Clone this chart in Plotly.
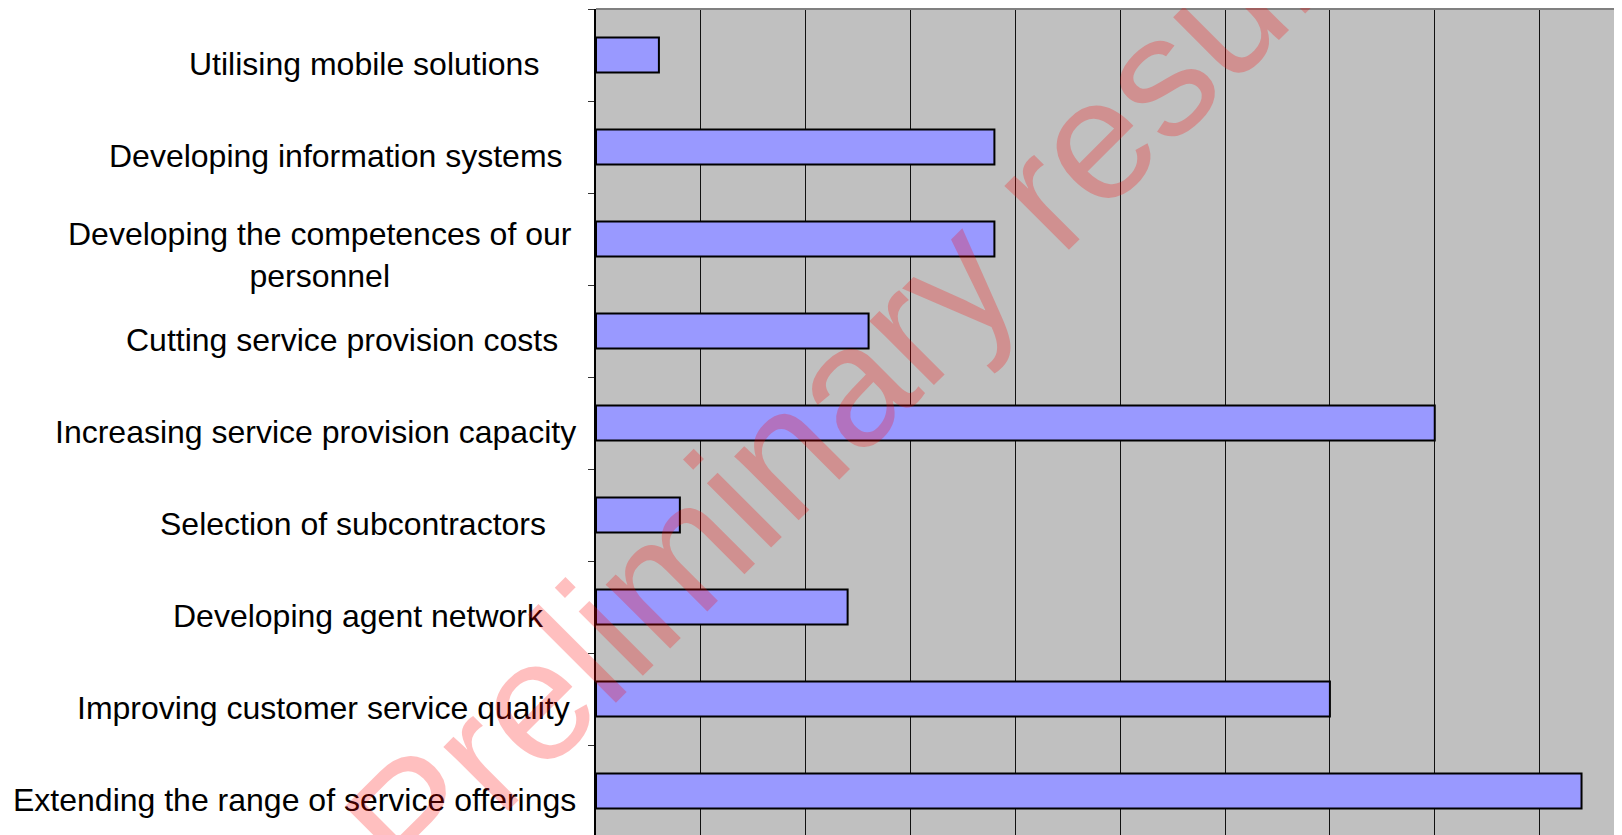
import plotly.graph_objects as go

# ---- data (top to bottom) ----
categories = [
    "Utilising mobile solutions",
    "Developing information systems",
    "Developing the competences of our<br>personnel",
    "Cutting service provision costs",
    "Increasing service provision capacity",
    "Selection of subcontractors",
    "Developing agent network",
    "Improving customer service quality",
    "Extending the range of service offerings",
]
values = [3, 19, 19, 13, 40, 4, 12, 35, 47]

watermark_text = "Preliminary results"

# ---- styling (label right-edge distance from the axis, px) ----
label_pad = [56, 32, 23, 37, 19, 49, 51, 25, 19]
FONT = "Liberation Sans, Arial, sans-serif"

BODY = 8  # default page margin around the plot div
W, H = 1622 - BODY, 835 - BODY
ML, MT = 596 - BODY, 9 - BODY

fig = go.Figure()
fig.add_trace(go.Bar(
    x=values,
    y=categories,
    orientation="h",
    width=0.38,
    marker=dict(color="#9999FF", line=dict(color="black", width=2)),
    hoverinfo="x+y",
))

fig.update_layout(
    width=W, height=H,
    margin=dict(l=ML, r=0, t=MT, b=0, pad=0),
    paper_bgcolor="white",
    plot_bgcolor="#C0C0C0",
    showlegend=False,
    font=dict(family=FONT, color="black"),
)

fig.update_xaxes(
    range=[0, 48.93],
    dtick=5, tick0=0,
    showgrid=True, gridcolor="#111111", gridwidth=1,
    zeroline=False, showline=False,
    showticklabels=False, ticks="",
)

fig.update_yaxes(
    type="category",
    categoryorder="array", categoryarray=categories,
    range=[8.5 - 2 / 92, -0.5],
    showgrid=False, zeroline=False,
    showline=True, linecolor="black", linewidth=2,
    ticks="outside", tickson="boundaries", ticklen=6, tickwidth=1, tickcolor="#333333",
    showticklabels=False,
)

# top border of plot area
fig.add_shape(type="line", xref="paper", yref="paper", x0=0, x1=1, y0=1, y1=1,
              line=dict(color="#808080", width=2))

# category labels
for cat, pad in zip(categories, label_pad):
    multi = "<br>" in cat
    fig.add_annotation(
        xref="paper", x=0, yref="y", y=cat,
        xanchor="right", yanchor="middle",
        xshift=-pad, yshift=-16 if multi else -9,
        text=cat, showarrow=False, align="center", borderpad=0,
        font=dict(family=FONT, size=32, color="black"),
    )

# watermark overlay (centre in page pixels: 876, 358)
plot_w = W - ML
plot_h = H - MT
fig.add_annotation(
    xref="paper", yref="paper",
    x=(876 - BODY - ML) / plot_w, y=(H - (358 - BODY)) / plot_h,
    xanchor="center", yanchor="middle",
    text=watermark_text, showarrow=False, textangle=-45,
    font=dict(family=FONT, size=172, color="rgba(255,0,0,0.25)"),
)

fig.write_html("out.html")
